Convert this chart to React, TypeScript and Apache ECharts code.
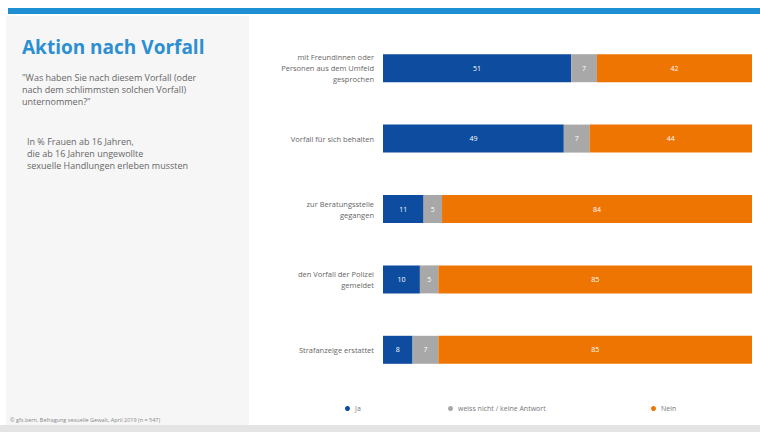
import React, { useEffect, useRef } from "react";
import * as echarts from "echarts";

const categories = [
  "mit Freundinnen oder\nPersonen aus dem Umfeld\ngesprochen",
  "Vorfall für sich behalten",
  "zur Beratungsstelle\ngegangen",
  "den Vorfall der Polizei\ngemeldet",
  "Strafanzeige erstattet",
];
const jaValues = [51, 49, 11, 10, 8];
const weissNichtValues = [7, 7, 5, 5, 7];
const neinValues = [42, 44, 84, 85, 85];
const seriesNames = ["Ja", "weiss nicht / keine Antwort", "Nein"];

export default function App() {
  const ref = useRef<HTMLDivElement>(null);
  useEffect(() => {
    document.body.style.margin = "0";
    const chart = echarts.init(ref.current!, null, { renderer: "svg" });
    const font = "'Open Sans', 'Noto Sans', sans-serif";
    const colors = ["#0d4c9e", "#a8a8a8", "#ef7503"];
    const valuesList = [jaValues, weissNichtValues, neinValues];
    chart.setOption({
      animation: false,
      textStyle: { fontFamily: font },
      graphic: [
        { type: "rect", shape: { x: 0, y: 0, width: 760, height: 432 }, style: { fill: "#ffffff" }, z: -10 },
        { type: "rect", shape: { x: 6, y: 16, width: 243, height: 409 }, style: { fill: "#f6f6f7" }, z: -9 },
        { type: "rect", shape: { x: 8, y: 8, width: 752, height: 6 }, style: { fill: "#1e8fd2" }, z: -8 },
        { type: "rect", shape: { x: 0, y: 425, width: 760, height: 7 }, style: { fill: "#e4e4e4" }, z: -8 },
        {
          type: "text", left: 22, top: 37,
          style: { text: "Aktion nach Vorfall", fill: "#2b8fd0", font: `bold 19px ${font}` },
        },
        {
          type: "text", left: 22, top: 71,
          style: {
            text: "\"Was haben Sie nach diesem Vorfall (oder\nnach dem schlimmsten solchen Vorfall)\nunternommen?\"",
            fill: "#666666", font: `9px ${font}`, lineHeight: 12,
          },
        },
        {
          type: "text", left: 27, top: 135,
          style: {
            text: "In % Frauen ab 16 Jahren,\ndie ab 16 Jahren ungewollte\nsexuelle Handlungen erleben mussten",
            fill: "#666666", font: `9px ${font}`, lineHeight: 12,
          },
        },
        {
          type: "text", left: 10, top: 417,
          style: {
            text: "© gfs.bern, Befragung sexuelle Gewalt, April 2019 (n = 547)",
            fill: "#888888", font: `5.5px ${font}`,
          },
        },
      ],
      legend: [
        { data: [seriesNames[0]], left: 340, top: 400 },
        { data: [seriesNames[1]], left: 443, top: 400 },
        { data: [seriesNames[2]], left: 646, top: 400 },
      ].map((l) => ({
        ...l,
        icon: "circle",
        itemWidth: 5,
        itemHeight: 5,
        itemGap: 4,
        textStyle: { fontSize: 7, color: "#777777", fontFamily: font },
      })),
      grid: { left: 383, right: 8, top: 33, bottom: 47 },
      xAxis: {
        type: "value", min: 0, max: 100, show: false,
      },
      yAxis: {
        type: "category",
        data: categories,
        inverse: true,
        axisLine: { show: false },
        axisTick: { show: false },
        axisLabel: { color: "#666666", fontSize: 7.5, lineHeight: 11, margin: 9, align: "right" },
      },
      series: seriesNames.map((name, i) => ({
        name,
        type: "bar",
        stack: "total",
        barWidth: 28,
        data: valuesList[i],
        itemStyle: { color: colors[i] },
        label: { show: true, position: "inside", color: "#ffffff", fontSize: 7, fontFamily: font },
      })),
      color: colors,
    });
    return () => chart.dispose();
  }, []);
  return <div ref={ref} style={{ width: 760, height: 432 }} />;
}
